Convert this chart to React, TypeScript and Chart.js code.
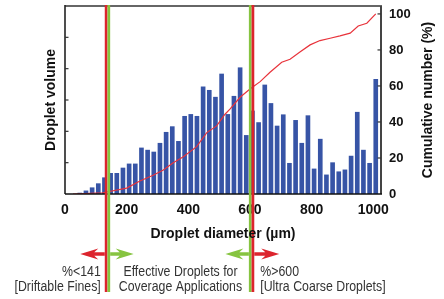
import React, { useEffect, useRef } from 'react';
import { Chart, registerables } from 'chart.js';

Chart.register(...registerables);

// Droplet diameter bins (µm)
const diameters = [
  48, 68, 88, 108, 128, 148, 168, 188, 208, 228,
  248, 268, 288, 308, 328, 348, 368, 388, 408, 428,
  448, 468, 488, 508, 528, 548, 568, 588, 608, 628,
  648, 668, 688, 708, 728, 748, 768, 788, 808, 828,
  848, 868, 888, 908, 928, 948, 968, 988, 1008,
];
// Droplet volume (arbitrary units, left axis 0–6)
const volumes = [
  0.03, 0.1, 0.2, 0.33, 0.52, 0.66, 0.66, 0.83, 0.96, 0.96,
  1.47, 1.4, 1.34, 1.62, 1.97, 2.15, 1.68, 2.48, 2.54, 2.48,
  3.42, 3.31, 3.09, 3.83, 2.54, 3.12, 4.03, 1.87, 2.65, 2.28,
  3.48, 2.89, 2.17, 2.53, 0.98, 2.35, 1.62, 2.5, 0.8, 1.75,
  0.61, 1.0, 0.71, 0.77, 1.21, 2.61, 1.4, 0.98, 3.66,
];
// Cumulative number curve (µm, %)
const cumDiam = [
  26, 123, 200, 243, 286, 319, 351, 384, 427, 460,
  492, 519, 535, 568, 600, 633, 665, 703, 730, 762,
  795, 827, 860, 892, 925, 951, 979, 1008,
];
const cumPct = [
  0, 0.7, 3.3, 7.2, 10.4, 13.3, 17.4, 20.7, 26.3, 34.1,
  37.8, 44.3, 47.1, 53.7, 58.3, 62.4, 67.6, 73.2, 74.8, 78.9,
  82.8, 85.2, 86.5, 87.8, 89.3, 93.3, 94.8, 100,
];

const xTicks = [0, 200, 400, 600, 800, 1000];
const rightTicks = [0, 20, 40, 60, 80, 100];
const leftTicks = [1, 2, 3, 4, 5];

const driftLimit = 141;
const coarseLimit = 600;

const xTitle = 'Droplet diameter (µm)';
const yTitle = 'Droplet volume';
const y1Title = 'Cumulative number (%)';
const driftLines = ['%<141', '[Driftable Fines]'];
const effectiveLines = ['Effective Droplets for', 'Coverage Applications'];
const coarseLines = ['%>600', '[Ultra Coarse Droplets]'];

const RED = '#dc242d';
const GREEN = '#86c440';
const BOLD = 'bold 14px "Liberation Sans", Arial, sans-serif';
const NOTE = '14px "Liberation Sans", Arial, sans-serif';

function arrow(ctx: CanvasRenderingContext2D, fromX: number, toX: number, y: number, color: string) {
  const d = Math.sign(toX - fromX);
  ctx.fillStyle = color;
  ctx.beginPath();
  ctx.moveTo(toX, y);
  ctx.lineTo(toX - d * 18, y - 5.6);
  ctx.lineTo(toX - d * 14, y - 1.7);
  ctx.lineTo(fromX, y - 1.7);
  ctx.lineTo(fromX, y + 1.7);
  ctx.lineTo(toX - d * 14, y + 1.7);
  ctx.lineTo(toX - d * 18, y + 5.6);
  ctx.closePath();
  ctx.fill();
}

function note(ctx: CanvasRenderingContext2D, text: string, x: number, y: number, align: CanvasTextAlign) {
  ctx.save();
  ctx.translate(x, y);
  ctx.scale(0.88, 1);
  ctx.textAlign = align;
  ctx.textBaseline = 'alphabetic';
  ctx.fillText(text, 0, 0);
  ctx.restore();
}

const noPad = (s: any) => {
  s.paddingTop = 0;
  s.paddingBottom = 0;
  s.paddingLeft = 0;
  s.paddingRight = 0;
};

export default function App() {
  const ref = useRef<HTMLCanvasElement>(null);

  useEffect(() => {
    const decor = {
      id: 'decor',
      afterDraw(chart: any) {
        const { ctx, chartArea: a, scales } = chart;
        const sx = scales.x;
        const sy = scales.y;
        const sy1 = scales.y1;
        ctx.save();
        // frame
        ctx.lineCap = 'butt';
        ctx.strokeStyle = '#666';
        ctx.lineWidth = 2;
        ctx.beginPath();
        ctx.moveTo(a.left, a.top);
        ctx.lineTo(a.right + 1, a.top);
        ctx.stroke();
        ctx.strokeStyle = '#444';
        ctx.beginPath();
        ctx.moveTo(a.right, a.top);
        ctx.lineTo(a.right, a.bottom);
        ctx.stroke();
        ctx.strokeStyle = '#222';
        ctx.lineWidth = 1.6;
        ctx.beginPath();
        ctx.moveTo(a.left, a.top - 1);
        ctx.lineTo(a.left, a.bottom);
        ctx.stroke();
        ctx.strokeStyle = '#111';
        ctx.beginPath();
        ctx.moveTo(a.left, a.bottom);
        ctx.lineTo(a.right + 1, a.bottom);
        ctx.stroke();
        // inward ticks
        ctx.lineWidth = 1.2;
        ctx.strokeStyle = '#333';
        leftTicks.forEach((v) => {
          const py = sy.getPixelForValue(v);
          ctx.beginPath();
          ctx.moveTo(a.left, py);
          ctx.lineTo(a.left + 3.5, py);
          ctx.stroke();
        });
        rightTicks.filter((v) => v > 0).forEach((v) => {
          const py = sy1.getPixelForValue(v);
          ctx.beginPath();
          ctx.moveTo(a.right - 3.5, py);
          ctx.lineTo(a.right, py);
          ctx.stroke();
        });
        // threshold lines
        const lw = 2.7;
        const top = a.top - 1;
        const bottom = 292;
        const lc = sx.getPixelForValue(driftLimit) - 1;
        const rc = sx.getPixelForValue(coarseLimit) + 1.6;
        const vline = (x: number, color: string) => {
          ctx.strokeStyle = color;
          ctx.lineWidth = lw;
          ctx.beginPath();
          ctx.moveTo(x, top);
          ctx.lineTo(x, bottom);
          ctx.stroke();
        };
        vline(lc - lw / 2, RED);
        vline(lc + lw / 2, GREEN);
        vline(rc - lw / 2, GREEN);
        vline(rc + lw / 2, RED);
        // arrows
        const ay = 254;
        arrow(ctx, lc - lw, lc - lw - 24.5, ay, RED);
        arrow(ctx, lc + lw, lc + lw + 23.5, ay, GREEN);
        arrow(ctx, rc - lw, rc - lw - 23.5, ay, GREEN);
        arrow(ctx, rc + lw, rc + lw + 25, ay, RED);
        // notes
        ctx.fillStyle = '#333';
        ctx.font = NOTE;
        note(ctx, driftLines[0], lc - lw - 4, 275.7, 'right');
        note(ctx, driftLines[1], lc - lw - 4, 291, 'right');
        note(ctx, effectiveLines[0], 180.5, 275.7, 'center');
        note(ctx, effectiveLines[1], 180.5, 291, 'center');
        note(ctx, coarseLines[0], rc + lw + 6, 275.7, 'left');
        note(ctx, coarseLines[1], rc + lw + 6, 291, 'left');
        // axis titles
        ctx.fillStyle = '#111';
        ctx.font = BOLD;
        ctx.textAlign = 'center';
        ctx.textBaseline = 'middle';
        ctx.fillText(xTitle, (a.left + a.right) / 2, 234);
        ctx.save();
        ctx.translate(51, (a.top + a.bottom) / 2);
        ctx.rotate(-Math.PI / 2);
        ctx.fillText(yTitle, 0, 0);
        ctx.restore();
        ctx.save();
        ctx.translate(428, (a.top + a.bottom) / 2);
        ctx.rotate(-Math.PI / 2);
        ctx.fillText(y1Title, 0, 0);
        ctx.restore();
        ctx.restore();
      },
    };

    const chart = new Chart(ref.current as HTMLCanvasElement, {
      type: 'bar',
      data: {
        datasets: [
          {
            type: 'line',
            data: cumDiam.map((x, i) => ({ x, y: cumPct[i] })),
            xAxisID: 'x',
            yAxisID: 'y1',
            borderColor: '#e8333b',
            borderWidth: 1.2,
            pointRadius: 0,
            tension: 0,
            order: 0,
          } as any,
          {
            type: 'bar',
            data: diameters.map((x, i) => ({ x, y: volumes[i] })),
            xAxisID: 'x',
            yAxisID: 'y',
            backgroundColor: '#3754a6',
            borderWidth: 0,
            barThickness: 4,
            order: 1,
          } as any,
        ],
      },
      options: {
        responsive: false,
        animation: false,
        layout: { padding: { left: 0, right: 0, top: 6, bottom: 65 } },
        plugins: { legend: { display: false }, tooltip: { enabled: false } },
        scales: {
          x: {
            type: 'linear',
            min: 0,
            max: 1025,
            offset: false,
            grid: { display: false, drawTicks: false, offset: false },
            border: { display: false },
            ticks: {
              padding: 8,
              maxRotation: 0,
              color: '#111',
              font: { family: '"Liberation Sans", Arial, sans-serif', size: 14, weight: 'bold' },
              callback: (v: any) => String(v),
            },
            afterBuildTicks: (ax: any) => {
              ax.ticks = xTicks.map((v) => ({ value: v }));
            },
            afterFit: (s: any) => {
              s.height = 40;
              noPad(s);
            },
          },
          y: {
            type: 'linear',
            position: 'left',
            min: 0,
            max: 6,
            ticks: { display: false },
            grid: { display: false, drawTicks: false },
            border: { display: false },
            afterFit: (s: any) => {
              s.width = 65;
              noPad(s);
            },
          },
          y1: {
            type: 'linear',
            position: 'right',
            min: 0,
            max: 104.4,
            ticks: {
              padding: 8,
              color: '#111',
              font: { family: '"Liberation Sans", Arial, sans-serif', size: 13, weight: 'bold' },
              callback: (v: any) => String(v),
            },
            afterBuildTicks: (ax: any) => {
              ax.ticks = rightTicks.map((v) => ({ value: v }));
            },
            grid: { display: false, drawTicks: false },
            border: { display: false },
            afterFit: (s: any) => {
              s.width = 63;
              noPad(s);
            },
          },
        },
      } as any,
      plugins: [decor],
    });
    return () => chart.destroy();
  }, []);

  return (
    <div style={{ position: 'fixed', left: 0, top: 0, width: 444, height: 299, background: '#fff' }}>
      <canvas ref={ref} width={444} height={299} style={{ display: 'block', width: 444, height: 299 }} />
    </div>
  );
}
